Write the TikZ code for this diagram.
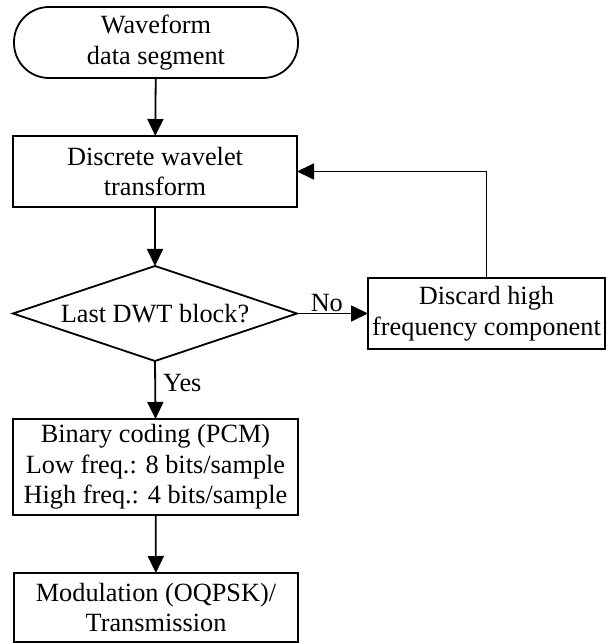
\documentclass[tikz,border=0pt]{standalone}
\usepackage{fontspec}
\setmainfont{Liberation Serif}
\usetikzlibrary{arrows.meta,shapes.geometric}
\begin{document}
\begin{tikzpicture}[x=1pt,y=-1pt,
  font=\fontsize{26.3}{30.5}\selectfont,
  every node/.style={inner sep=0pt, outer sep=0pt},
  box/.style={draw, line width=1.8pt, align=center},
  term/.style={box, rounded corners=35pt},
  decision/.style={draw, line width=1.8pt, diamond, aspect=3.05},
  arr/.style={line width=1.8pt, -{Triangle[length=17pt,width=16pt]}},
  lbl/.style={inner sep=2pt}]
\useasboundingbox (0,0) rectangle (613,644);

\node[term, minimum width=284pt, minimum height=71pt] (start) at (156,42.5) {Waveform\\data segment};
\node[box, minimum width=284pt, minimum height=71pt] (dwt) at (155,171.5) {Discrete wavelet\\transform};
\node[decision, minimum width=284pt, minimum height=95pt] (dia) at (155,313.5) {Last DWT block?};
\node[box, minimum width=237pt, minimum height=71pt] (disc) at (486.5,313.5) {Discard high\\frequency component};
\node[box, minimum width=285pt, minimum height=96pt] (bin) at (155.5,467) {Binary coding (PCM)\\Low freq.: 8 bits/sample\\High freq.: 4 bits/sample};
\node[box, minimum width=284pt, minimum height=69pt] (mod) at (156,607.5) {Modulation (OQPSK)/\\Transmission};

\draw[arr] (start) -- (dwt);
\draw[arr] (dwt) -- (dia);
\draw[arr] (dia.east) -- node[lbl, above, pos=0.42] {No} (disc.west);
\draw[arr] (disc.north) |- (dwt.east);
\draw[arr] (dia.south) -- node[lbl, right, pos=0.38, xshift=6pt] {Yes} (bin.north);
\draw[arr] (bin) -- (mod);
\end{tikzpicture}
\end{document}
